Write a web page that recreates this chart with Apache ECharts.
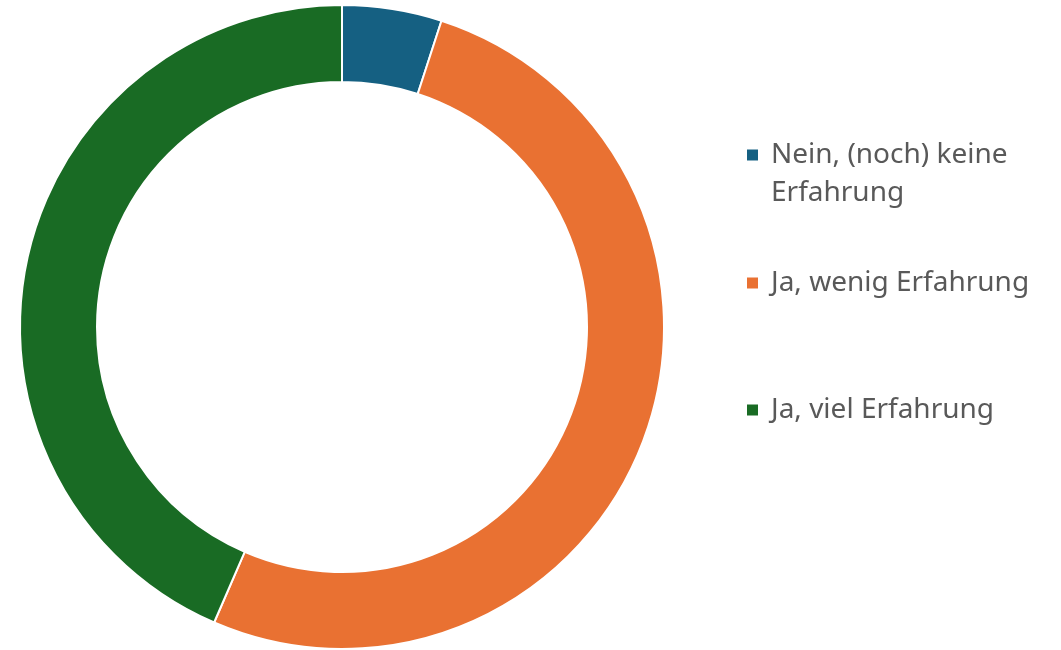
<!DOCTYPE html>
<html>
<head>
<meta charset="utf-8">
<script src="https://cdn.jsdelivr.net/npm/echarts@6/dist/echarts.min.js"></script>
<style>
  html, body { margin: 0; padding: 0; background: #fff; }
  #chart { width: 1061px; height: 650px; }
</style>
</head>
<body>
<div id="chart"></div>
<script>
const categories = ['Nein, (noch) keine Erfahrung', 'Ja, wenig Erfahrung', 'Ja, viel Erfahrung'];
const shares = [5.0, 51.5, 43.5];
const colors = ['#156082', '#E97132', '#196B24'];

document.addEventListener('DOMContentLoaded', () => {
  const chartDom = document.getElementById('chart');
  const myChart = echarts.init(chartDom);

  const legendText = {
    fontFamily: 'Noto Sans',
    fontSize: 28,
    color: '#595959',
    lineHeight: 38,
    padding: [0, 0, 0, 7]
  };
  // first item wraps; an empty leading line keeps the marker on its first line
  const legendTops = [98, 264, 391];

  const legends = categories.map((name, i) => ({
    data: [name],
    left: 745,
    top: legendTops[i],
    padding: 0,
    icon: 'rect',
    itemWidth: 13,
    itemHeight: 13,
    selectedMode: false,
    formatter: i === 0 ? () => ' \nNein, (noch) keine\nErfahrung' : '{name}',
    textStyle: legendText
  }));

  const option = {
    animation: false,
    color: colors,
    legend: legends,
    series: [
      {
        name: 'Erfahrung',
        type: 'pie',
        center: [342, 327],
        radius: [245, 322],
        startAngle: 90,
        clockwise: true,
        label: { show: false },
        labelLine: { show: false },
        itemStyle: { borderColor: '#fff', borderWidth: 2 },
        data: categories.map((name, i) => ({ name, value: shares[i] }))
      }
    ]
  };

  myChart.setOption(option);
});
</script>
</body>
</html>
